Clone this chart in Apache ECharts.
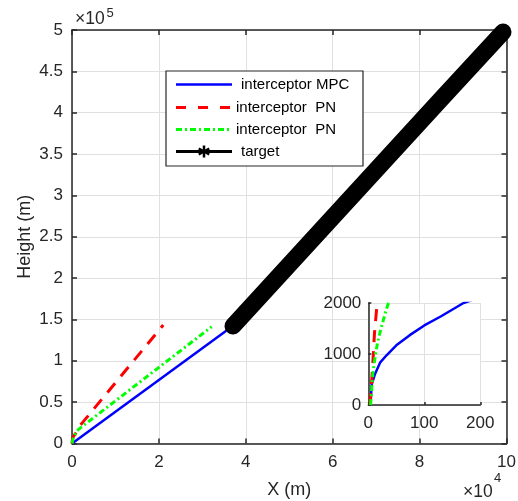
<!DOCTYPE html>
<html>
<head>
<meta charset="utf-8">
<script src="https://cdn.jsdelivr.net/npm/echarts@6/dist/echarts.min.js"></script>
<style>
html,body{margin:0;padding:0;background:#fff;}
#chart{width:518px;height:501px;}
</style>
</head>
<body>
<div id="chart"></div>
<script>
// ---- data (x in m, height in m) ----
const mpcData = [[4,0],[5,200],[6,400],[12,610],[21,830],[33,980],[50,1170],[74,1370],[100,1560],[130,1740],[170,2000],[35500,136300]];
const pnRedData = [[3,0],[5,300],[8,800],[11,1400],[15,1900],[80,5000],[300,8300],[1000,13500],[1800,21500],[2500,25800],[21000,143300]];
const pnGreenData = [[4,0],[6,300],[8,600],[11,850],[13,1000],[17,1250],[22,1470],[27,1670],[31,1830],[36,2000],[200,5000],[500,8800],[900,12800],[1400,16500],[2200,20000],[32150,141200]];
const targetData = [[37050,142000],[84700,415000],[99200,497500]];

const seriesNames = ['interceptor MPC', 'interceptor  PN', 'interceptor  PN', 'target'];
const mainXRange = [0, 100000, 20000];
const mainYRange = [0, 500000, 50000];
const insetXRange = [0, 200, 100];
const insetYRange = [0, 2000, 1000];
const xExponentText = ['\u00d710', '4'];
const yExponentText = ['\u00d710', '5'];
const xAxisTitle = 'X (m)';
const yAxisTitle = 'Height (m)';

const FONT = "'Liberation Sans', Arial, Helvetica, sans-serif";
const AX = '#262626';
const GRIDC = '#e0e0e0';

const chart = echarts.init(document.getElementById('chart'), null, {renderer: 'canvas'});

function axisBase(range, extra) {
  return Object.assign({
    type: 'value', min: range[0], max: range[1], interval: range[2],
    axisLine: {show: true, onZero: false, lineStyle: {color: AX, width: 1.5}},
    axisTick: {show: true, inside: true, length: 5, lineStyle: {color: AX, width: 1.5}},
    splitLine: {show: false},
    axisLabel: {show: false}
  }, extra);
}

const labelStyle = {show: true, color: AX, fontSize: 17, fontFamily: FONT, showMinLabel: true, showMaxLabel: true};

const option = {
  animation: false,
  backgroundColor: '#fff',
  grid: [
    {left: 72, top: 30, right: 11.5, bottom: 57.5, show: false, outerBoundsMode: 'none', containLabel: false},
    {left: 368.3, top: 303, width: 112, height: 102, show: true, backgroundColor: '#fff', borderWidth: 0, z: 5, outerBoundsMode: 'none', containLabel: false}
  ],
  xAxis: [
    axisBase(mainXRange, {gridIndex: 0, position: 'bottom',
      splitLine: {show: true, lineStyle: {color: GRIDC, width: 1}},
      axisLabel: Object.assign({}, labelStyle, {margin: 10, formatter: v => String(v / 10000)}),
      name: xAxisTitle, nameLocation: 'middle', nameGap: 38, nameMoveOverlap: false,
      nameTextStyle: {color: AX, fontSize: 18, fontFamily: FONT}}),
    axisBase(mainXRange, {gridIndex: 0, position: 'top'}),
    axisBase(insetXRange, {gridIndex: 1, position: 'bottom', z: 6,
      axisTick: {show: true, inside: true, length: 3, lineStyle: {color: AX, width: 1.5}},
      splitLine: {show: true, lineStyle: {color: GRIDC, width: 1}},
      axisLabel: Object.assign({}, labelStyle, {margin: 10, formatter: v => String(v)})})
  ],
  yAxis: [
    axisBase(mainYRange, {gridIndex: 0, position: 'left',
      splitLine: {show: true, lineStyle: {color: GRIDC, width: 1}},
      axisLabel: Object.assign({}, labelStyle, {margin: 9, formatter: v => String(Math.round(v / 10000) / 10)}),
      name: yAxisTitle, nameLocation: 'middle', nameGap: 38, nameRotate: 90, nameMoveOverlap: false,
      nameTextStyle: {color: AX, fontSize: 18, fontFamily: FONT}}),
    axisBase(mainYRange, {gridIndex: 0, position: 'right'}),
    axisBase(insetYRange, {gridIndex: 1, position: 'left', z: 6,
      axisTick: {show: true, inside: true, length: 3, lineStyle: {color: AX, width: 1.5}},
      splitLine: {show: true, lineStyle: {color: GRIDC, width: 1}},
      axisLabel: Object.assign({}, labelStyle, {margin: 7, formatter: v => String(v)})})
  ],
  series: []
};

const styles = [
  {color: '#0000ff', width: 2.5, type: 'solid'},
  {color: '#ff0000', width: 3, type: [12, 9]},
  {color: '#00ff00', width: 3, type: [6, 3, 2, 3]}
];
const lineSets = [mpcData, pnRedData, pnGreenData];
lineSets.forEach((d, i) => {
  option.series.push({
    name: seriesNames[i], type: 'line', data: d, symbol: 'none', xAxisIndex: 0, yAxisIndex: 0,
    lineStyle: {color: styles[i].color, width: styles[i].width, type: styles[i].type}, z: 2 + i * 0.1, clip: true
  });
});
option.series.push({
  name: seriesNames[3], type: 'line', data: targetData, symbol: 'none', xAxisIndex: 0, yAxisIndex: 0,
  lineStyle: {color: '#000', width: 17, cap: 'round', join: 'round'}, z: 3, clip: false
});
lineSets.forEach((d, i) => {
  option.series.push({
    name: seriesNames[i] + ' inset', type: 'line', data: d, symbol: 'none', xAxisIndex: 2, yAxisIndex: 2,
    lineStyle: {color: styles[i].color, width: styles[i].width, type: styles[i].type}, z: 7 + i * 0.1, clip: true
  });
});

// legend (drawn as graphic so spacing matches)
const lx1 = 176, lx2 = 232;
const rows = [84.5, 107.5, 129.5, 151.5];
const g = [
  {type: 'rect', shape: {x: 166, y: 71, width: 197, height: 95}, style: {fill: '#fff', stroke: AX, lineWidth: 1.2}, z: 10},
  {type: 'line', shape: {x1: lx1, y1: rows[0], x2: lx2, y2: rows[0]}, style: {stroke: '#0000ff', lineWidth: 2.5}, z: 11},
  {type: 'line', shape: {x1: lx1, y1: rows[1], x2: lx2, y2: rows[1]}, style: {stroke: '#ff0000', lineWidth: 3, lineDash: [10, 12]}, z: 11},
  {type: 'line', shape: {x1: lx1, y1: rows[2], x2: lx2, y2: rows[2]}, style: {stroke: '#00ff00', lineWidth: 3, lineDash: [6, 3, 2, 3]}, z: 11},
  {type: 'line', shape: {x1: lx1, y1: rows[3], x2: lx2, y2: rows[3]}, style: {stroke: '#000', lineWidth: 3}, z: 11}
];
const cx = 204, cy = rows[3], r = 6;
[[0, -r, 0, r], [-r * 0.87, -r * 0.5, r * 0.87, r * 0.5], [-r * 0.87, r * 0.5, r * 0.87, -r * 0.5]].forEach(s => {
  g.push({type: 'line', shape: {x1: cx + s[0], y1: cy + s[1], x2: cx + s[2], y2: cy + s[3]}, style: {stroke: '#000', lineWidth: 2.5}, z: 11});
});
const textX = [241, 236, 236, 241];
seriesNames.forEach((n, i) => {
  g.push({type: 'text', style: {text: n, x: textX[i], y: rows[i], verticalAlign: 'middle', fontSize: 15, fontFamily: FONT, fill: '#000'}, z: 11});
});
// exponent labels
g.push({type: 'text', style: {text: yExponentText[0], x: 75, y: 28, verticalAlign: 'bottom', fontSize: 17.5, fontFamily: FONT, fill: AX}, z: 11});
g.push({type: 'text', style: {text: yExponentText[1], x: 106.5, y: 19.5, verticalAlign: 'bottom', fontSize: 13, fontFamily: FONT, fill: AX}, z: 11});
g.push({type: 'text', style: {text: xExponentText[0], x: 463, y: 501, verticalAlign: 'bottom', fontSize: 17.5, fontFamily: FONT, fill: AX}, z: 11});
g.push({type: 'text', style: {text: xExponentText[1], x: 494, y: 485, verticalAlign: 'bottom', fontSize: 13, fontFamily: FONT, fill: AX}, z: 11});
option.graphic = g;

chart.setOption(option);
</script>
</body>
</html>
